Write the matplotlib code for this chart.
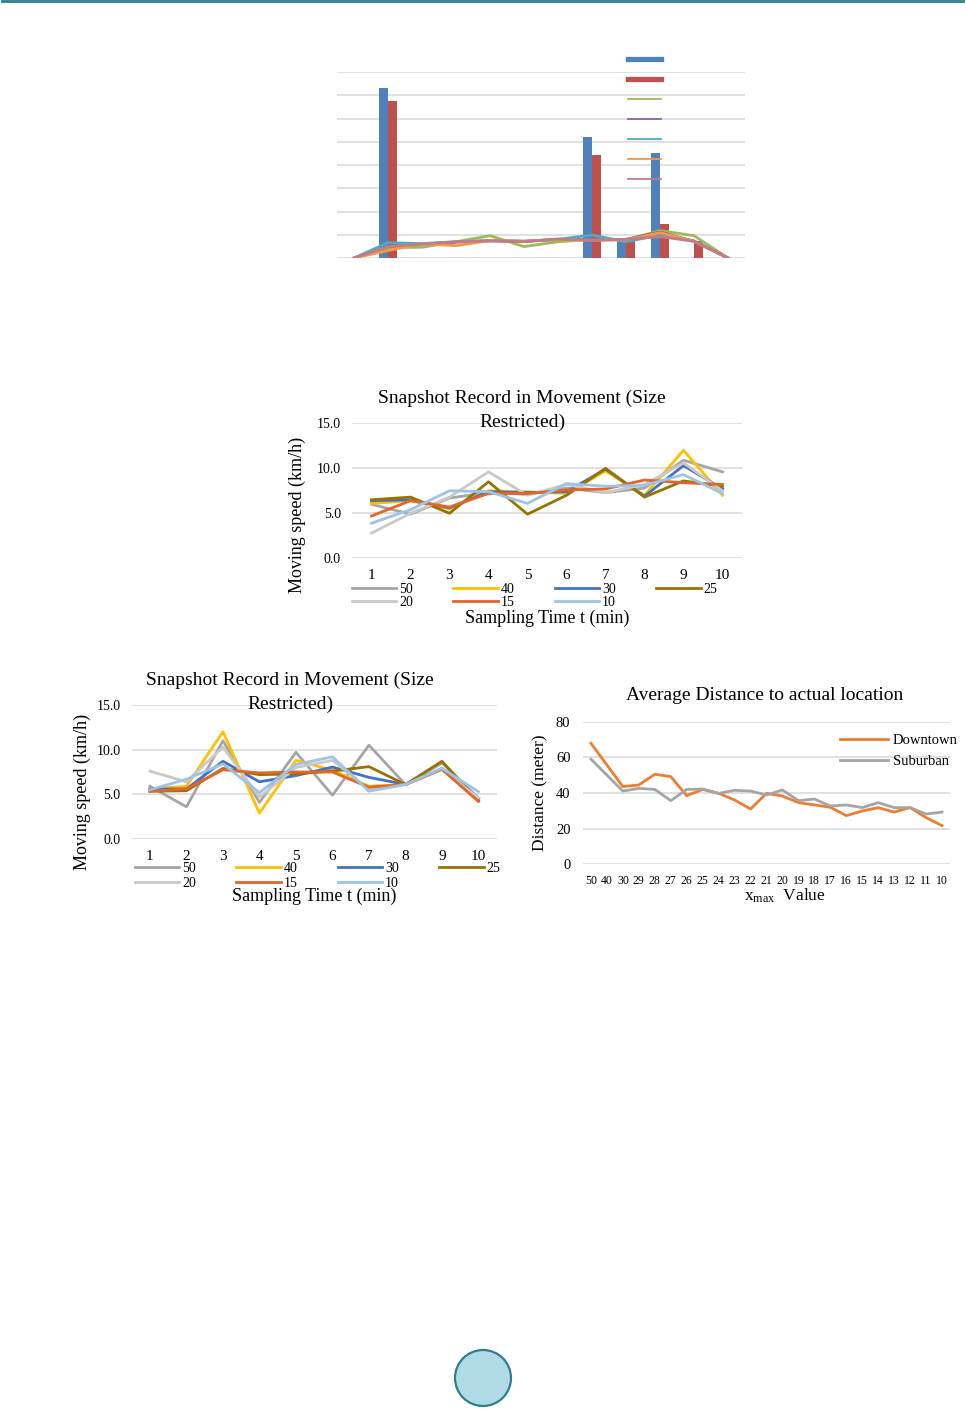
import matplotlib
matplotlib.use("Agg")
import numpy as np
import matplotlib.pyplot as plt
from matplotlib.lines import Line2D
from matplotlib.patches import Ellipse
from matplotlib.ticker import FormatStrFormatter

plt.rcParams['font.family'] = ['Liberation Serif', 'DejaVu Serif']
plt.rcParams['mathtext.fontset'] = 'custom'
plt.rcParams['mathtext.rm'] = 'Liberation Serif'

W, H = 966, 1409
GRID = '#d9d9d9'

# --- top chart (no labels) ---
top_cats = list(range(12))
top_blue = [0, 7.31, 0, 0, 0, 0, 0, 5.19, 0.75, 4.53, 0, 0]
top_red = [0, 6.77, 0, 0, 0, 0, 0, 4.43, 0.72, 1.45, 0.73, 0]
top_green = [0, 0.45, 0.46, 0.7, 0.96, 0.49, 0.7, 0.8, 0.78, 1.18, 0.96, 0]
top_purple = [0, 0.5, 0.6, 0.68, 0.75, 0.72, 0.8, 0.8, 0.8, 1.12, 0.72, 0]
top_cyan = [0, 0.66, 0.62, 0.7, 0.74, 0.72, 0.8, 0.99, 0.7, 0.99, 0.74, 0]
top_orange = [0, 0.32, 0.62, 0.53, 0.75, 0.72, 0.8, 0.77, 0.78, 1.09, 0.72, 0]
top_pink = [0, 0.49, 0.6, 0.7, 0.73, 0.7, 0.82, 0.76, 0.8, 0.92, 0.72, 0]

# --- snapshot chart (middle) ---
snap_x = list(range(1, 11))
snap_names = ['50', '40', '30', '25', '20', '15', '10']
snap_colors = ['#a5a5a5', '#ffc000', '#4472c4', '#997300', '#c9c9c9', '#e2662b', '#9dc3e6']
mid_50 = [6.0, 4.9, 6.7, 7.3, 7.1, 7.8, 7.3, 7.8, 10.9, 9.6]
mid_40 = [6.1, 6.4, 5.5, 7.5, 7.4, 7.2, 9.7, 7.0, 12.0, 7.0]
mid_30 = [6.4, 6.5, 5.6, 7.4, 7.3, 7.4, 9.9, 6.9, 10.3, 7.7]
mid_25 = [6.5, 6.8, 5.0, 8.5, 4.9, 7.0, 10.0, 6.8, 8.6, 8.0]
mid_20 = [2.8, 5.0, 6.8, 9.6, 7.0, 8.2, 7.3, 8.2, 10.6, 7.5]
mid_15 = [4.7, 6.4, 5.7, 7.2, 7.2, 7.6, 7.7, 8.7, 8.4, 8.2]
mid_10 = [3.9, 5.4, 7.5, 7.4, 6.1, 8.3, 8.0, 8.1, 9.3, 7.2]

# --- snapshot chart (bottom left) ---
low_50 = [5.9, 3.6, 11.0, 4.1, 9.7, 4.9, 10.5, 6.1, 8.5, 4.6]
low_40 = [5.6, 5.9, 12.0, 2.9, 8.8, 7.7, 5.9, 6.1, 7.8, 4.5]
low_30 = [5.6, 5.6, 8.7, 6.4, 7.1, 8.05, 6.9, 6.1, 7.9, 4.5]
low_25 = [5.35, 5.4, 7.9, 7.2, 7.3, 7.6, 8.1, 6.1, 8.7, 4.3]
low_20 = [7.6, 6.4, 10.3, 4.7, 8.0, 8.8, 5.6, 6.1, 7.8, 4.6]
low_15 = [5.35, 5.6, 7.75, 7.4, 7.5, 7.5, 5.8, 6.1, 7.8, 4.2]
low_10 = [5.5, 6.7, 8.4, 5.2, 8.35, 9.2, 5.35, 6.1, 7.9, 5.3]

# --- average distance chart ---
xmax_labels = ['50', '40', '30', '29', '28', '27', '26', '25', '24', '23', '22', '21',
               '20', '19', '18', '17', '16', '15', '14', '13', '12', '11', '10']
downtown = [67.9, 55.7, 43.6, 44.5, 50.5, 49.2, 38.5, 42.0, 39.8, 36.1, 31.0, 39.8,
            38.3, 34.6, 33.3, 32.0, 27.3, 29.9, 31.8, 29.3, 31.8, 26.2, 21.7]
suburban = [59.0, 50.0, 41.1, 42.6, 42.0, 35.7, 42.0, 42.2, 39.8, 41.5, 41.1, 38.9,
            41.7, 35.7, 36.6, 32.7, 33.3, 31.8, 34.6, 31.8, 31.8, 28.2, 29.3]


def box(l, t, r, b):
    return [l / W, 1 - b / H, (r - l) / W, (b - t) / H]


def ftext(x, y, s, **kw):
    fig.text(x / W, 1 - y / H, s, **kw)


def clean(ax):
    for sp in ax.spines.values():
        sp.set_visible(False)
    ax.tick_params(length=0)
    ax.set_axisbelow(True)
    ax.yaxis.grid(True, color=GRID, lw=1.1)


fig = plt.figure(figsize=(W / 100, H / 100), dpi=100)

# header rule and page circle
fig.add_artist(Line2D([2 / W, 963 / W], [1 - 1.2 / H] * 2, color='#2f7f8c', lw=2))
fig.add_artist(Ellipse((483 / W, 1 - 1378 / H), 56 / W, 56 / H, transform=fig.transFigure,
                       facecolor='#b0dbe6', edgecolor='#2e7f8a', lw=1.6))

# ---------------- top chart ----------------
ax = fig.add_axes(box(337, 72, 745, 258))
clean(ax)
xc = np.array(top_cats)
ax.bar(xc - 0.133, top_blue, width=0.265, color='#4f81bd')
ax.bar(xc + 0.133, top_red, width=0.265, color='#c0504d')
tops = [(top_green, '#9bbb59'), (top_purple, '#8064a2'), (top_cyan, '#4bacc6'),
        (top_orange, '#f79646'), (top_pink, '#c27c86')]
for vals, c in tops:
    ax.plot(xc, vals, color=c, lw=2)
ax.set_xlim(-0.5, 11.5)
ax.set_ylim(0, 8)
ax.set_yticks(range(9))
ax.set_xticks([])
ax.set_yticklabels([])
hs = [Line2D([], [], color='#4f81bd', lw=3.8), Line2D([], [], color='#c0504d', lw=3.8)]
hs += [Line2D([], [], color=c, lw=1.3) for _, c in tops]
fig.legend(hs, [' '] * 7, loc='upper left', bbox_to_anchor=(628 / W, 1 - 54 / H),
           frameon=False, fontsize=10, handlelength=2.4, handletextpad=0,
           labelspacing=0.5, borderpad=0, borderaxespad=0)


def snapshot(rect, series, title_x, title_y, ylab_x, ylab_y, xlab_y, leg_y, leg_x, leg_sp):
    ax = fig.add_axes(box(*rect))
    clean(ax)
    for vals, c in zip(series, snap_colors):
        ax.plot(snap_x, vals, color=c, lw=2)
    ax.set_xlim(0.5, 10.5)
    ax.set_ylim(0, 15)
    ax.set_yticks([0, 5, 10, 15])
    ax.yaxis.set_major_formatter(FormatStrFormatter('%.1f'))
    ax.set_xticks(snap_x)
    ax.tick_params(axis='y', labelsize=10, pad=8)
    ax.tick_params(axis='x', labelsize=11, pad=8)
    ftext(title_x, title_y, 'Snapshot Record in Movement (Size', ha='center', va='center',
          fontsize=14)
    ftext(title_x, title_y + 24, 'Restricted)', ha='center', va='center', fontsize=14)
    ftext(ylab_x, ylab_y, 'Moving speed (km/h)', rotation=90, ha='center', va='center',
          fontsize=13)
    ftext((rect[0] + rect[2]) / 2, xlab_y, 'Sampling Time t (min)', ha='center',
          va='center', fontsize=13)
    hl = [Line2D([], [], color=c, lw=2) for c in snap_colors]
    order = [0, 4, 1, 5, 2, 6, 3]
    fig.legend([hl[i] for i in order], [snap_names[i] for i in order], loc='upper left',
               bbox_to_anchor=(leg_x / W, 1 - leg_y / H), ncol=4, frameon=False,
               fontsize=10, handlelength=3.2, handletextpad=0.2, columnspacing=2.9,
               labelspacing=leg_sp, borderpad=0, borderaxespad=0)


snapshot((352, 423.3, 742, 558.3), [mid_50, mid_40, mid_30, mid_25, mid_20, mid_15, mid_10],
         522, 398, 297, 515, 618, 583, 352, 0.0)
snapshot((131.7, 705, 496.7, 839), [low_50, low_40, low_30, low_25, low_20, low_15, low_10],
         290, 680, 82, 792, 896, 862, 135, 0.15)

# ---------------- average distance ----------------
ax = fig.add_axes(box(583, 721.7, 950, 864.3))
clean(ax)
xi = np.arange(len(xmax_labels))
ax.plot(xi, downtown, color='#ed7d31', lw=2, label='Downtown')
ax.plot(xi, suburban, color='#a5a5a5', lw=2, label='Suburban')
ax.set_xlim(-0.5, len(xmax_labels) - 0.5)
ax.set_ylim(0, 80)
ax.set_yticks([0, 20, 40, 60, 80])
ax.set_xticks(xi)
ax.set_xticklabels(xmax_labels)
ax.tick_params(axis='x', labelsize=8.5, pad=8)
ax.tick_params(axis='y', labelsize=10.5, pad=9)
ax.legend(loc='upper left', bbox_to_anchor=(840 / W, 1 - 734 / H),
          bbox_transform=fig.transFigure, frameon=False, fontsize=10.5,
          handlelength=3.3, handletextpad=0.3, labelspacing=0.5, borderpad=0,
          borderaxespad=0)
ftext(765, 695, 'Average Distance to actual location', ha='center', va='center', fontsize=14)
ftext(540, 793, 'Distance (meter)', rotation=90, ha='center', va='center', fontsize=12.5)
ftext(785, 896, r'$\mathregular{x_{max}}$  Value', ha='center', va='center', fontsize=12.5)

fig.savefig('out.png', dpi=100)
